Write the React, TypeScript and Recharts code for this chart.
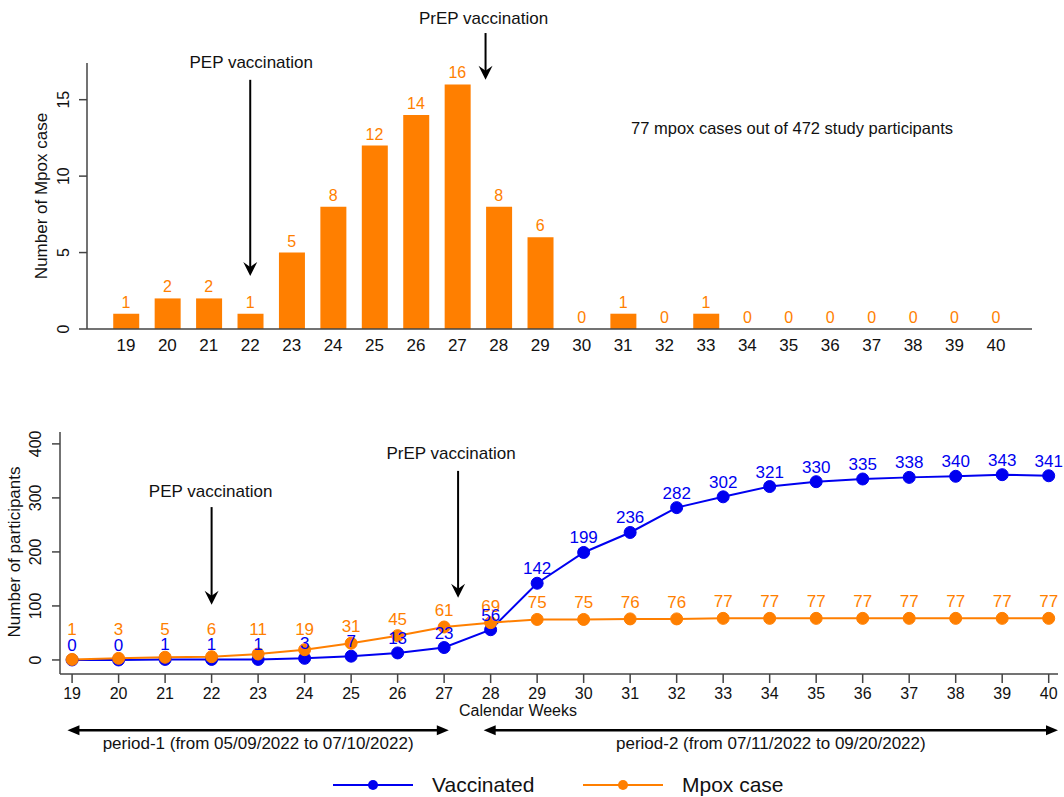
import React from 'react';
import { ComposedChart, Bar, LineChart, Line, XAxis, YAxis, LabelList, ReferenceLine } from 'recharts';

const FONT = '"Liberation Sans", Arial, Helvetica, sans-serif';
const ORANGE = '#FF7F00';
const BLUE = '#0000F0';
const AXIS = '#444';

// calendar weeks 19..40 (2022)
const weeks = [19, 20, 21, 22, 23, 24, 25, 26, 27, 28, 29, 30, 31, 32, 33, 34, 35, 36, 37, 38, 39, 40];
const weeklyCases = [1, 2, 2, 1, 5, 8, 12, 14, 16, 8, 6, 0, 1, 0, 1, 0, 0, 0, 0, 0, 0, 0];
const vaccinated = [0, 0, 1, 1, 1, 3, 7, 13, 23, 56, 142, 199, 236, 282, 302, 321, 330, 335, 338, 340, 343, 341];
const cumulativeCases = [1, 3, 5, 6, 11, 19, 31, 45, 61, 69, 75, 75, 76, 76, 77, 77, 77, 77, 77, 77, 77, 77];

const caseTicks = [0, 5, 10, 15];
const participantTicks = [0, 100, 200, 300, 400];

const seriesNames = ['Vaccinated', 'Mpox case'];

const periods = [
  { label: 'period-1 (from 05/09/2022 to 07/10/2022)', start: 18.9, end: 27.1 },
  { label: 'period-2 (from 07/11/2022 to 09/20/2022)', start: 27.85, end: 40.2 },
];

const topData = weeks.map((week, i) => ({ week, cases: weeklyCases[i] }));
const bottomData = weeks.map((week, i) => ({
  week,
  vaccinated: vaccinated[i],
  cases: cumulativeCases[i],
}));

const RotatedTick = (props: any) => {
  const { x, y, payload, fontSize } = props;
  return (
    <text
      x={x}
      y={y}
      transform={`rotate(-90 ${x} ${y})`}
      textAnchor="middle"
      fontSize={fontSize}
      fontFamily={FONT}
      fill="#111"
    >
      {payload.value}
    </text>
  );
};

// vertical annotation arrow with its caption on top
const downArrow = (caption: string, captionDx = 0, gap = 11) => (props: any) => {
  const { x1, y1, x2, y2 } = props;
  return (
    <g>
      <text x={x1 + captionDx} y={y1 - gap} textAnchor="middle" fontSize={17} fontFamily={FONT} fill="#111">
        {caption}
      </text>
      <line x1={x1} y1={y1} x2={x2} y2={y2 - 6} stroke="#000" strokeWidth={2} />
      <path d={`M${x2},${y2} L${x2 - 7},${y2 - 14} L${x2},${y2 - 9} L${x2 + 7},${y2 - 14} Z`} fill="#000" />
    </g>
  );
};

const periodArrow = (caption: string) => (props: any) => {
  const { x1, y1, x2 } = props;
  return (
    <g>
      <line x1={x1 + 8} y1={y1} x2={x2 - 8} y2={y1} stroke="#000" strokeWidth={2.5} />
      <path d={`M${x1},${y1} L${x1 + 12},${y1 - 5} L${x1 + 12},${y1 + 5} Z`} fill="#000" />
      <path d={`M${x2},${y1} L${x2 - 12},${y1 - 5} L${x2 - 12},${y1 + 5} Z`} fill="#000" />
      <text x={(x1 + x2) / 2} y={y1 + 19} textAnchor="middle" fontSize={17} fontFamily={FONT} fill="#111">
        {caption}
      </text>
    </g>
  );
};

// bar value labels, also for the empty weeks
const barLabel = (props: any) => {
  const { x, y, value } = props;
  return (
    <text x={x} y={y - 6} textAnchor="middle" fontSize={16} fontFamily={FONT} fill={ORANGE}>
      {value}
    </text>
  );
};

const blueLabel = (props: any) => {
  const { x, y, value } = props;
  return (
    <text x={x} y={y - 9} textAnchor="middle" fontSize={17} fontFamily={FONT} fill={BLUE}>
      {value}
    </text>
  );
};

// orange labels never sink below the row of blue labels near zero
const orangeLabel = (props: any) => {
  const { x, y, value } = props;
  return (
    <text x={x} y={Math.min(y - 11, 255)} textAnchor="middle" fontSize={17} fontFamily={FONT} fill={ORANGE}>
      {value}
    </text>
  );
};

function WeeklyCases() {
  return (
    <ComposedChart width={1064} height={370} data={topData} margin={{ top: 63, right: 32, bottom: 11, left: 47 }}>
      <XAxis
        type="number"
        dataKey="week"
        domain={[18.06, 40.87]}
        ticks={weeks}
        interval={0}
        allowDataOverflow
        tickLine={false}
        tickSize={0}
        tickMargin={10}
        height={30}
        axisLine={{ stroke: AXIS, strokeWidth: 1.5 }}
        tick={{ fontSize: 17, fill: '#111', fontFamily: FONT }}
      />
      <YAxis
        domain={[0, 17.4]}
        ticks={caseTicks}
        allowDataOverflow
        width={40}
        tickSize={8}
        tickMargin={10}
        axisLine={{ stroke: AXIS, strokeWidth: 1.5 }}
        tickLine={{ stroke: AXIS, strokeWidth: 1.5 }}
        tick={<RotatedTick fontSize={16} />}
      />
      <Bar dataKey="cases" fill={ORANGE} barSize={26} isAnimationActive={false} />
      <Line dataKey="cases" stroke="none" dot={false} activeDot={false} legendType="none" isAnimationActive={false}>
        <LabelList dataKey="cases" content={barLabel} />
      </Line>
      <ReferenceLine
        segment={[{ x: 22, y: 16.3 }, { x: 22, y: 3.47 }]}
        ifOverflow="visible"
        shape={downArrow('PEP vaccination', 1, 12)}
      />
      <ReferenceLine
        segment={[{ x: 27.68, y: 19.36 }, { x: 27.68, y: 16.3 }]}
        ifOverflow="visible"
        shape={downArrow('PrEP vaccination', -2, 9)}
      />
      <text x={47} y={196} transform="rotate(-90 47 196)" textAnchor="middle" fontSize={17} fontFamily={FONT} fill="#111">
        Number of Mpox case
      </text>
      <text x={792} y={134} textAnchor="middle" fontSize={16.5} fontFamily={FONT} fill="#111">
        77 mpox cases out of 472 study participants
      </text>
    </ComposedChart>
  );
}

function Cumulative() {
  return (
    <LineChart width={1064} height={390} data={bottomData} margin={{ top: 52, right: 6, bottom: 56, left: 20 }}>
      <XAxis
        type="number"
        dataKey="week"
        domain={[18.74, 40.2]}
        ticks={weeks}
        interval={0}
        allowDataOverflow
        tickSize={9}
        tickMargin={5}
        height={40}
        axisLine={{ stroke: AXIS, strokeWidth: 1.5 }}
        tickLine={{ stroke: AXIS, strokeWidth: 1.5 }}
        tick={{ fontSize: 16, fill: '#111', fontFamily: FONT }}
      />
      <YAxis
        domain={[-26, 422]}
        ticks={participantTicks}
        allowDataOverflow
        width={40}
        tickSize={8}
        tickMargin={11}
        axisLine={{ stroke: AXIS, strokeWidth: 1.5 }}
        tickLine={{ stroke: AXIS, strokeWidth: 1.5 }}
        tick={<RotatedTick fontSize={16} />}
      />
      <Line
        dataKey="vaccinated"
        name={seriesNames[0]}
        stroke={BLUE}
        strokeWidth={2}
        dot={{ r: 6, fill: BLUE, stroke: BLUE, strokeWidth: 1 }}
        isAnimationActive={false}
      />
      <Line
        dataKey="cases"
        name={seriesNames[1]}
        stroke={ORANGE}
        strokeWidth={2}
        dot={{ r: 6, fill: ORANGE, stroke: ORANGE, strokeWidth: 1 }}
        isAnimationActive={false}
      >
        <LabelList dataKey="cases" content={orangeLabel} />
      </Line>
      {/* label layer for the vaccinated series, drawn above the orange points */}
      <Line
        dataKey="vaccinated"
        stroke="none"
        dot={false}
        activeDot={false}
        legendType="none"
        isAnimationActive={false}
      >
        <LabelList dataKey="vaccinated" content={blueLabel} />
      </Line>
      <ReferenceLine
        segment={[{ x: 22, y: 283 }, { x: 22, y: 102 }]}
        ifOverflow="visible"
        shape={downArrow('PEP vaccination', -1, 10)}
      />
      <ReferenceLine
        segment={[{ x: 27.3, y: 350 }, { x: 27.3, y: 115 }]}
        ifOverflow="visible"
        shape={downArrow('PrEP vaccination', -7, 12)}
      />
      {periods.map((p) => (
        <ReferenceLine
          key={p.label}
          segment={[{ x: p.start, y: -130 }, { x: p.end, y: -130 }]}
          ifOverflow="visible"
          shape={periodArrow(p.label)}
        />
      ))}
      <text x={20} y={172} transform="rotate(-90 20 172)" textAnchor="middle" fontSize={17} fontFamily={FONT} fill="#111">
        Number of participants
      </text>
      <text x={518} y={336} textAnchor="middle" fontSize={16} fontFamily={FONT} fill="#111">
        Calendar Weeks
      </text>
    </LineChart>
  );
}

function Legend() {
  const colors = [BLUE, ORANGE];
  const starts = [333, 583];
  return (
    <svg width={1064} height={30} style={{ position: 'absolute', left: 0, top: 770 }}>
      {seriesNames.map((name, i) => (
        <g key={name}>
          <line x1={starts[i]} y1={15} x2={starts[i] + 80} y2={15} stroke={colors[i]} strokeWidth={2} />
          <circle cx={starts[i] + 40} cy={15} r={5} fill={colors[i]} />
          <text x={starts[i] + 99} y={22} fontSize={21} fontFamily={FONT} fill="#111">
            {name}
          </text>
        </g>
      ))}
    </svg>
  );
}

export default function App() {
  return (
    <div style={{ position: 'absolute', left: 0, top: 0, width: 1064, height: 797, background: '#fff' }}>
      <div style={{ position: 'absolute', left: 0, top: 0 }}>
        <WeeklyCases />
      </div>
      <div style={{ position: 'absolute', left: 0, top: 380 }}>
        <Cumulative />
      </div>
      <Legend />
    </div>
  );
}
